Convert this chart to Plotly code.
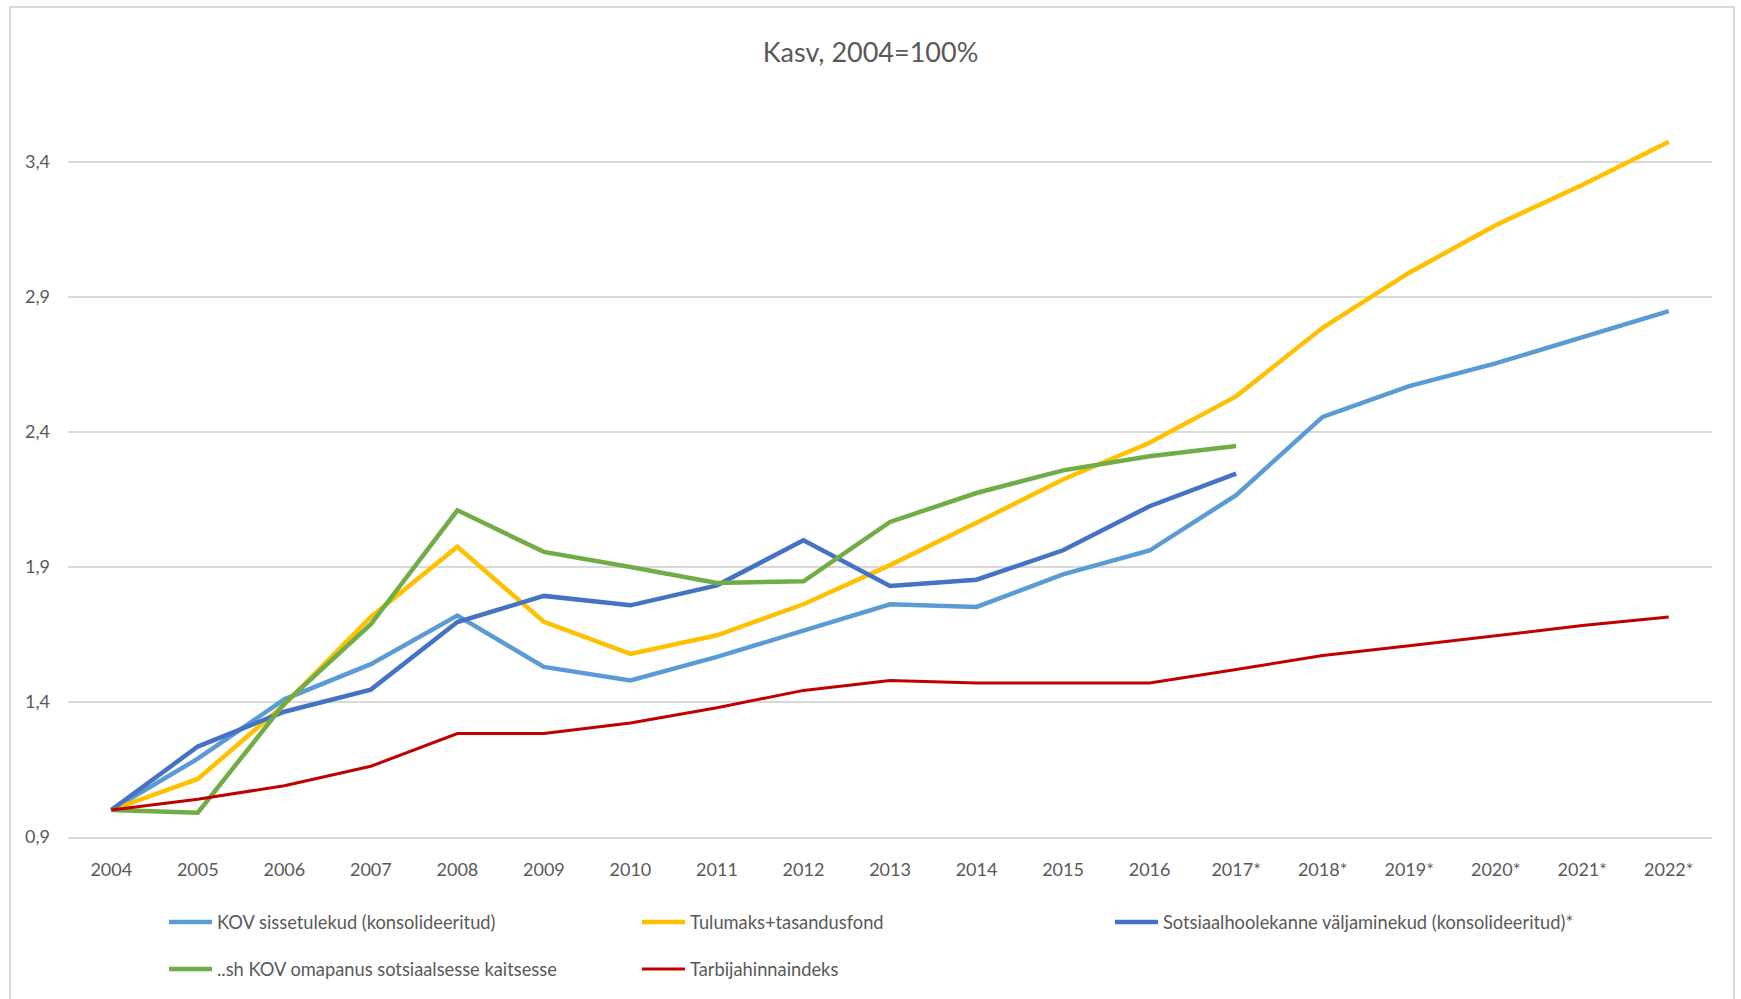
import plotly.graph_objects as go

years = ["2004", "2005", "2006", "2007", "2008", "2009", "2010", "2011", "2012",
         "2013", "2014", "2015", "2016", "2017*", "2018*", "2019*", "2020*", "2021*", "2022*"]

kov_sissetulekud = [1.00, 1.19, 1.41, 1.54, 1.72, 1.53, 1.48, 1.567, 1.664, 1.762,
                    1.752, 1.873, 1.961, 2.166, 2.456, 2.570, 2.654, 2.753, 2.848]
tulumaks = [1.00, 1.115, 1.39, 1.715, 1.975, 1.697, 1.578, 1.647, 1.762, 1.907,
            2.064, 2.224, 2.36, 2.532, 2.786, 2.99, 3.166, 3.315, 3.475]
sotsiaalhoolekanne = [1.00, 1.235, 1.364, 1.446, 1.696, 1.793, 1.758, 1.832, 1.999, 1.830,
                      1.853, 1.962, 2.125, 2.246, None, None, None, None, None]
omapanus = [1.00, 0.99, 1.394, 1.688, 2.110, 1.956, 1.90, 1.841, 1.847, 2.067,
            2.174, 2.258, 2.310, 2.348, None, None, None, None, None]
tarbijahinnaindeks = [1.00, 1.04, 1.09, 1.162, 1.283, 1.283, 1.322, 1.379, 1.443, 1.480,
                      1.470, 1.470, 1.470, 1.520, 1.572, 1.608, 1.646, 1.683, 1.715]

series = [
    ("KOV sissetulekud (konsolideeritud)", kov_sissetulekud, "#5B9BD5", 4.5, "legend"),
    ("Tulumaks+tasandusfond", tulumaks, "#FFC000", 4.5, "legend"),
    ("Sotsiaalhoolekanne väljaminekud (konsolideeritud)*", sotsiaalhoolekanne, "#4472C4", 4.5, "legend"),
    ("..sh KOV omapanus sotsiaalsesse kaitsesse", omapanus, "#70AD47", 4.5, "legend2"),
    ("Tarbijahinnaindeks", tarbijahinnaindeks, "#C00000", 3, "legend2"),
]

FONT = "Lato, sans-serif"
TXT = "#595959"

fig = go.Figure()
for name, vals, color, w, lg in series:
    fig.add_trace(go.Scatter(x=years, y=vals, name=name, mode="lines",
                             line=dict(color=color, width=w), legend=lg,
                             connectgaps=False))

W, H = 1741, 999
ml, mr, mt, mb = 68, 29, 81, 162

legend_common = dict(orientation="h", xref="container", yref="container",
                     xanchor="left", yanchor="middle", entrywidth=415, itemwidth=43,
                     entrywidthmode="pixels", bgcolor="rgba(0,0,0,0)",
                     font=dict(family=FONT, size=18.3, color=TXT))

fig.update_layout(
    width=W, height=H,
    margin=dict(l=ml, r=mr, t=mt, b=mb),
    paper_bgcolor="white", plot_bgcolor="white",
    separators=", ",
    font=dict(family=FONT, color=TXT),
    title=dict(text="Kasv, 2004=100%", x=0.5, xanchor="center", xref="container",
               y=1 - 53 / H, yanchor="middle", yref="container",
               font=dict(family=FONT, size=27, color=TXT)),
    xaxis=dict(type="category", range=[-0.5, len(years) - 0.5], showgrid=False,
               showline=True, linecolor="#D9D9D9", linewidth=1.5, ticks="",
               ticklabelstandoff=16, tickfont=dict(family=FONT, size=18, color=TXT),
               zeroline=False),
    yaxis=dict(range=[0.9, 3.7], tick0=0.9, dtick=0.5, tickformat=".1f",
               showgrid=True, gridcolor="#D9D9D9", gridwidth=1.5, showline=False,
               zeroline=False, ticks="", ticklabelstandoff=17,
               tickfont=dict(family=FONT, size=18, color=TXT)),
    legend=dict(x=164 / W, y=1 - 922 / H, **legend_common),
    legend2=dict(x=164 / W, y=1 - 969 / H, **legend_common),
    shapes=[dict(type="rect", xref="paper", yref="paper",
                 x0=(10 - ml) / (W - ml - mr), x1=(1734 - ml) / (W - ml - mr),
                 y0=-0.4, y1=(H - mb - 7) / (H - mt - mb),
                 line=dict(color="#D9D9D9", width=2), fillcolor="rgba(0,0,0,0)",
                 layer="below")],
    showlegend=True,
)

fig.write_html("out.html", config={"displayModeBar": False},
               post_script="document.body.style.margin='0';document.body.style.overflow='hidden';")
